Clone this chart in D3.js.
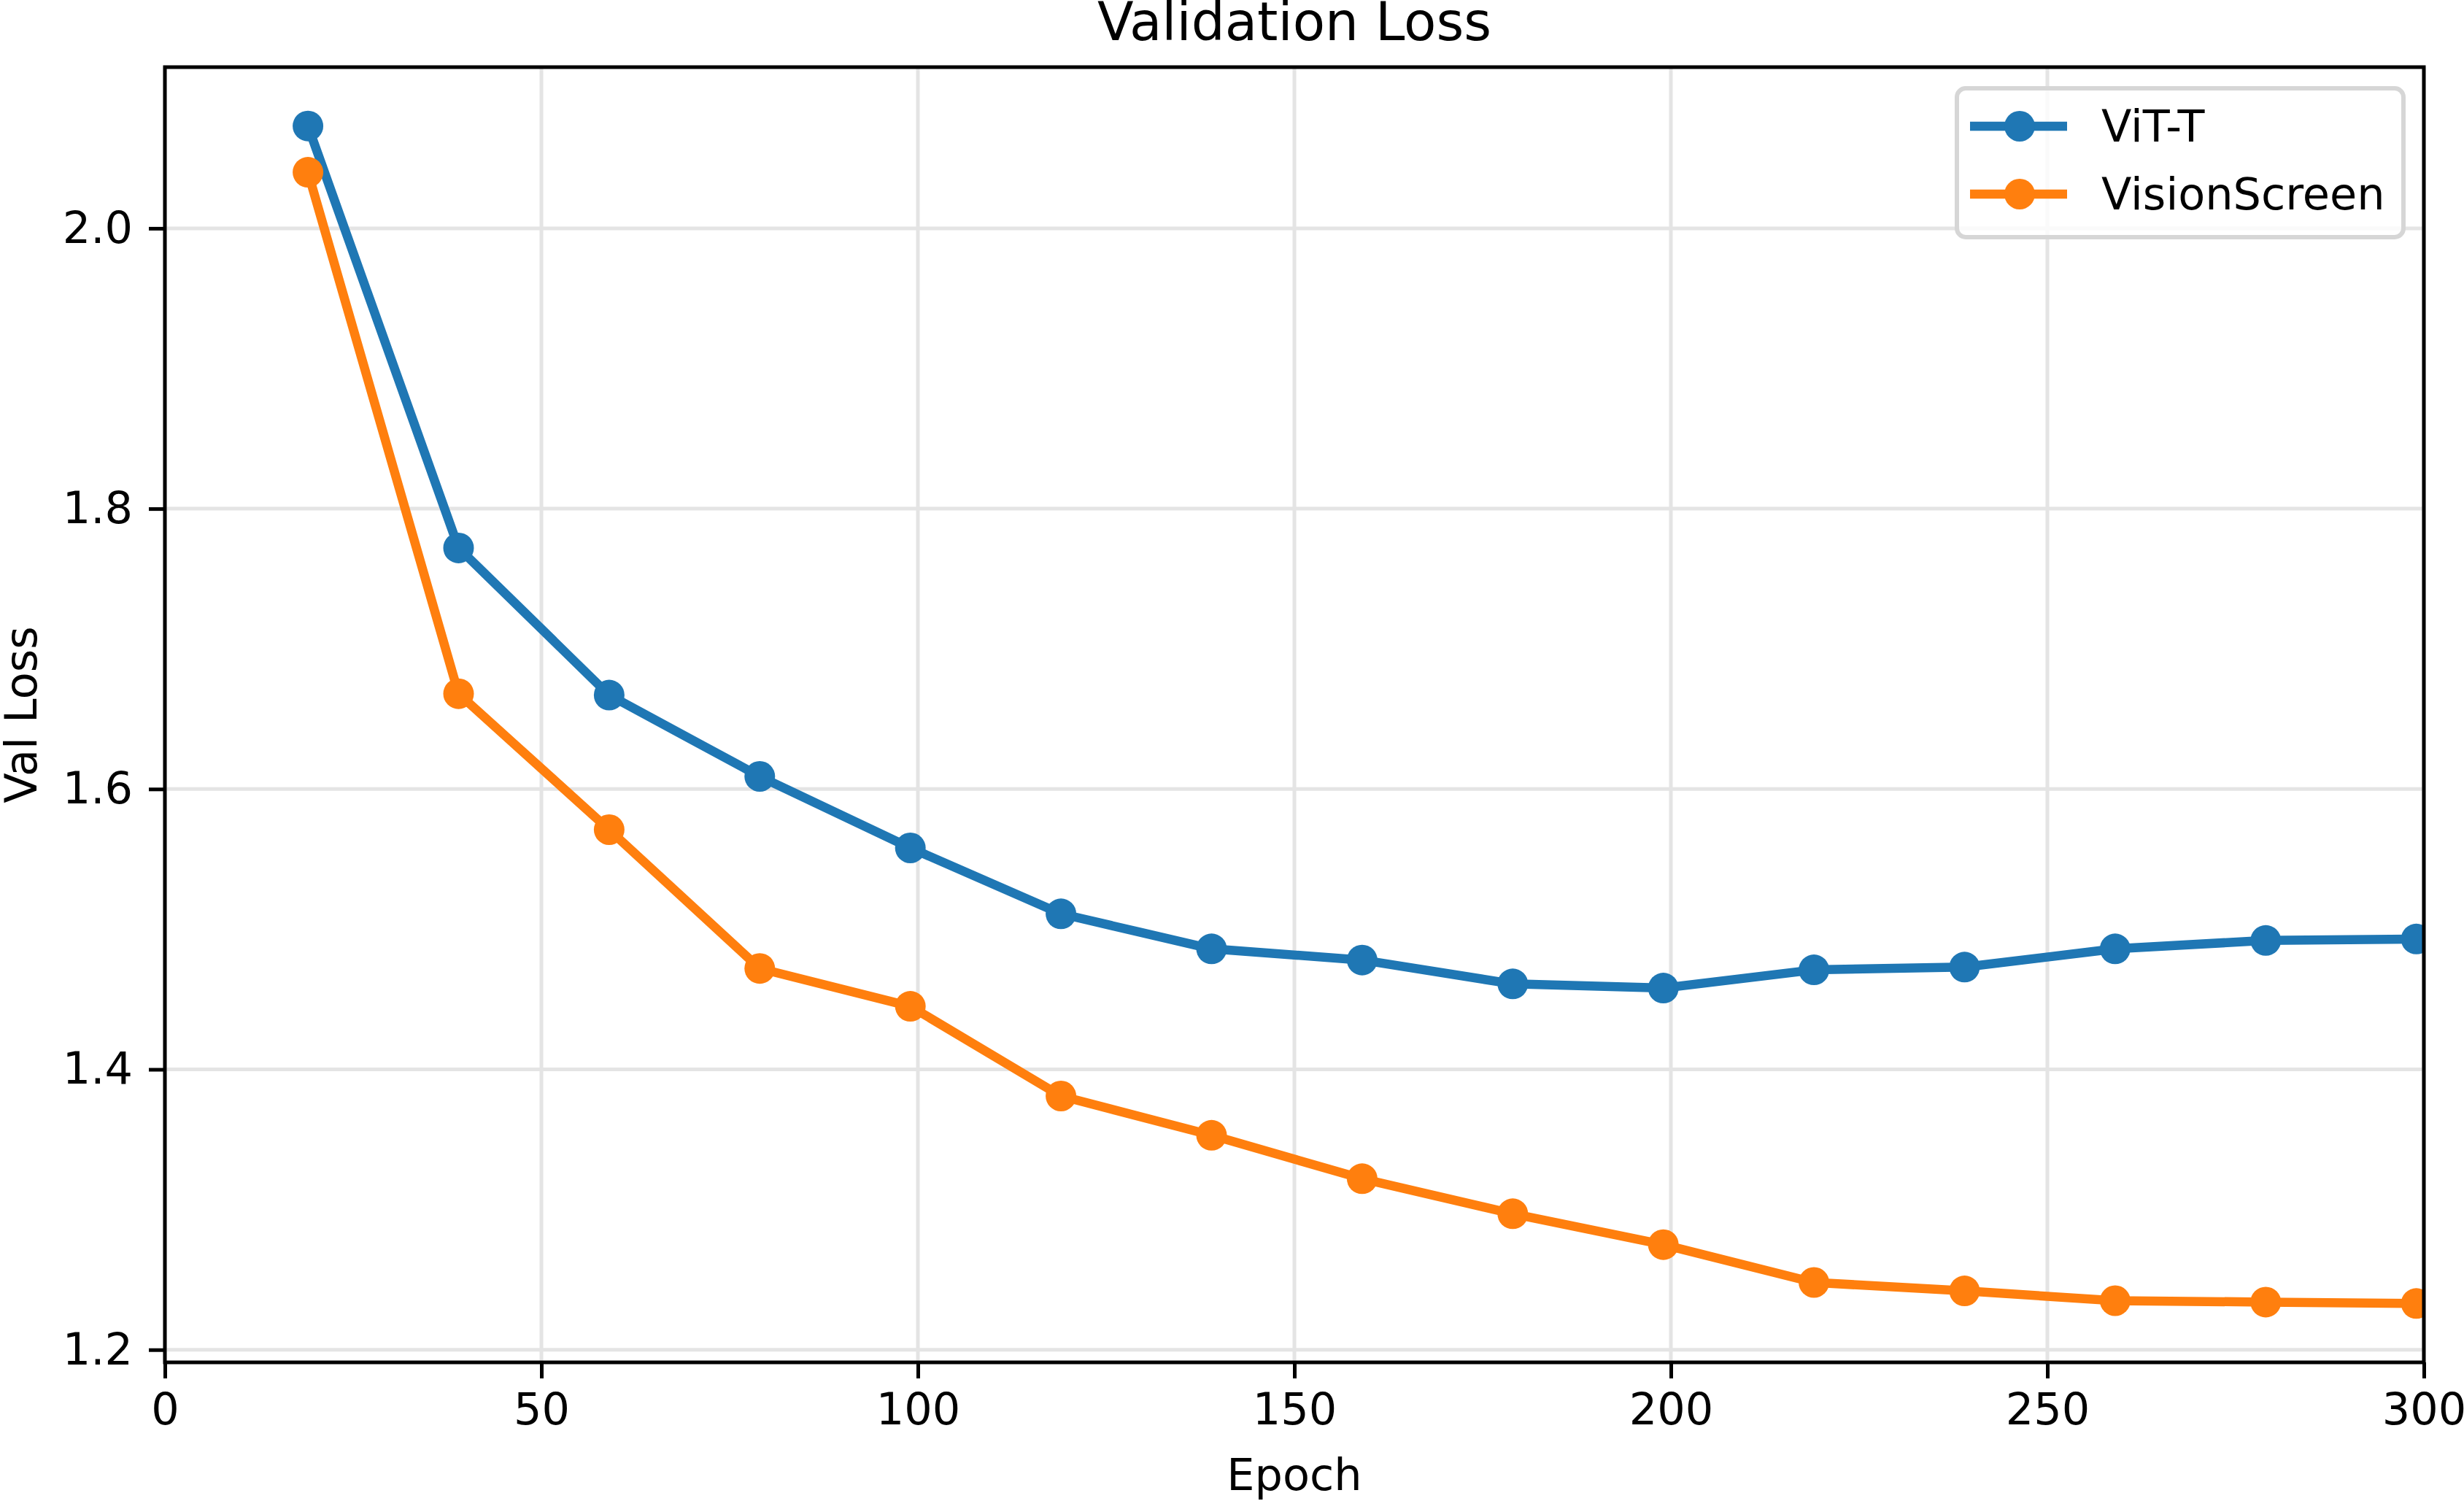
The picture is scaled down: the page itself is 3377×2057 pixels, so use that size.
<!DOCTYPE html>
<html>
<head>
<meta charset="utf-8">
<script src="https://cdn.jsdelivr.net/npm/d3@7"></script>
<style>
  html, body { margin: 0; padding: 0; background: #fff; }
  svg { display: block; font-family: "DejaVu Sans", sans-serif; }
</style>
</head>
<body>
<div id="chart"></div>
<script>
// data
const epochs = [19, 39, 59, 79, 99, 119, 139, 159, 179, 199, 219, 239, 259, 279, 299];
const vitT = [2.073, 1.772, 1.667, 1.609, 1.558, 1.511, 1.486, 1.478, 1.461, 1.458, 1.471, 1.473, 1.486, 1.492, 1.493];
const visionScreen = [2.040, 1.668, 1.571, 1.472, 1.445, 1.381, 1.353, 1.322, 1.297, 1.275, 1.248, 1.242, 1.235, 1.234, 1.233];
const seriesNames = ['ViT-T', 'VisionScreen'];
const seriesColors = ['#1f77b4', '#ff7f0e'];
const xTicks = [0, 50, 100, 150, 200, 250, 300];
const yTicks = [1.2, 1.4, 1.6, 1.8, 2.0];

const width = 3377, height = 2057;
const margin = {top: 92, right: 55, bottom: 190, left: 226};
const innerW = width - margin.left - margin.right;
const innerH = height - margin.top - margin.bottom;
const fontSize = '60.5px';
const lineW = 12.5;

const svg = d3.select('#chart').append('svg')
              .attr('width', width)
              .attr('height', height);

const x = d3.scaleLinear().domain([0, 300]).range([0, innerW]);
const y = d3.scaleLinear().domain([1.191, 2.115]).range([innerH, 0]);

const g = svg.append('g')
             .attr('transform', `translate(${margin.left},${margin.top})`);

svg.append('defs').append('clipPath').attr('id', 'clip')
   .append('rect').attr('width', innerW).attr('height', innerH);

// grid
g.append('g')
 .selectAll('line.vg')
 .data(xTicks).enter().append('line')
 .attr('x1', d => x(d)).attr('x2', d => x(d))
 .attr('y1', 0).attr('y2', innerH)
 .attr('stroke', '#e4e4e4').attr('stroke-width', 5);
g.append('g')
 .selectAll('line.hg')
 .data(yTicks).enter().append('line')
 .attr('x1', 0).attr('x2', innerW)
 .attr('y1', d => y(d)).attr('y2', d => y(d))
 .attr('stroke', '#e4e4e4').attr('stroke-width', 5);

// series
const series = [vitT, visionScreen];
const line = d3.line()
               .x((d, i) => x(epochs[i]))
               .y(d => y(d));

const plot = g.append('g').attr('clip-path', 'url(#clip)');
series.forEach((vals, k) => {
    plot.append('path')
        .datum(vals)
        .attr('fill', 'none')
        .attr('stroke', seriesColors[k])
        .attr('stroke-width', lineW)
        .attr('stroke-linejoin', 'round')
        .attr('d', line);
    plot.selectAll('circle.s' + k)
        .data(vals).enter().append('circle')
        .attr('cx', (d, i) => x(epochs[i]))
        .attr('cy', d => y(d))
        .attr('r', 21)
        .attr('fill', seriesColors[k]);
});

// axes
const xAxis = d3.axisBottom(x).tickValues(xTicks).tickSize(22).tickPadding(20);
const yAxis = d3.axisLeft(y).tickValues(yTicks).tickSize(22).tickPadding(22)
                .tickFormat(d3.format('.1f'));

const gx = g.append('g').attr('transform', `translate(0,${innerH})`).call(xAxis);
const gy = g.append('g').call(yAxis);
[gx, gy].forEach(a => {
    a.select('.domain').remove();
    a.selectAll('.tick line').attr('stroke', '#000').attr('stroke-width', 5);
    a.selectAll('.tick text')
     .attr('fill', '#000')
     .style('font-family', '"DejaVu Sans", sans-serif')
     .style('font-size', fontSize);
});

// frame
g.append('rect')
 .attr('width', innerW).attr('height', innerH)
 .attr('fill', 'none').attr('stroke', '#000').attr('stroke-width', 5);

// labels
svg.append('text')
   .attr('x', margin.left + innerW / 2).attr('y', 55)
   .attr('text-anchor', 'middle')
   .style('font-size', '72.5px')
   .text('Validation Loss');

svg.append('text')
   .attr('x', margin.left + innerW / 2).attr('y', 2042)
   .attr('text-anchor', 'middle')
   .style('font-size', fontSize)
   .text('Epoch');

svg.append('text')
   .attr('transform', `translate(50,${margin.top + innerH / 2}) rotate(-90)`)
   .attr('text-anchor', 'middle')
   .style('font-size', fontSize)
   .text('Val Loss');

// legend
const lg = svg.append('g').attr('transform', 'translate(2682,121)');
lg.append('rect')
  .attr('width', 612).attr('height', 204)
  .attr('rx', 12).attr('ry', 12)
  .attr('fill', 'rgba(255,255,255,0.8)')
  .attr('stroke', '#d6d6d6').attr('stroke-width', 6);

seriesNames.forEach((name, k) => {
    const cy = 52 + k * 93;
    lg.append('line')
      .attr('x1', 18).attr('x2', 151)
      .attr('y1', cy).attr('y2', cy)
      .attr('stroke', seriesColors[k]).attr('stroke-width', lineW);
    lg.append('circle')
      .attr('cx', 86).attr('cy', cy).attr('r', 21)
      .attr('fill', seriesColors[k]);
    lg.append('text')
      .attr('x', 198).attr('y', cy + 21)
      .style('font-size', fontSize)
      .text(name);
});
</script>
</body>
</html>
